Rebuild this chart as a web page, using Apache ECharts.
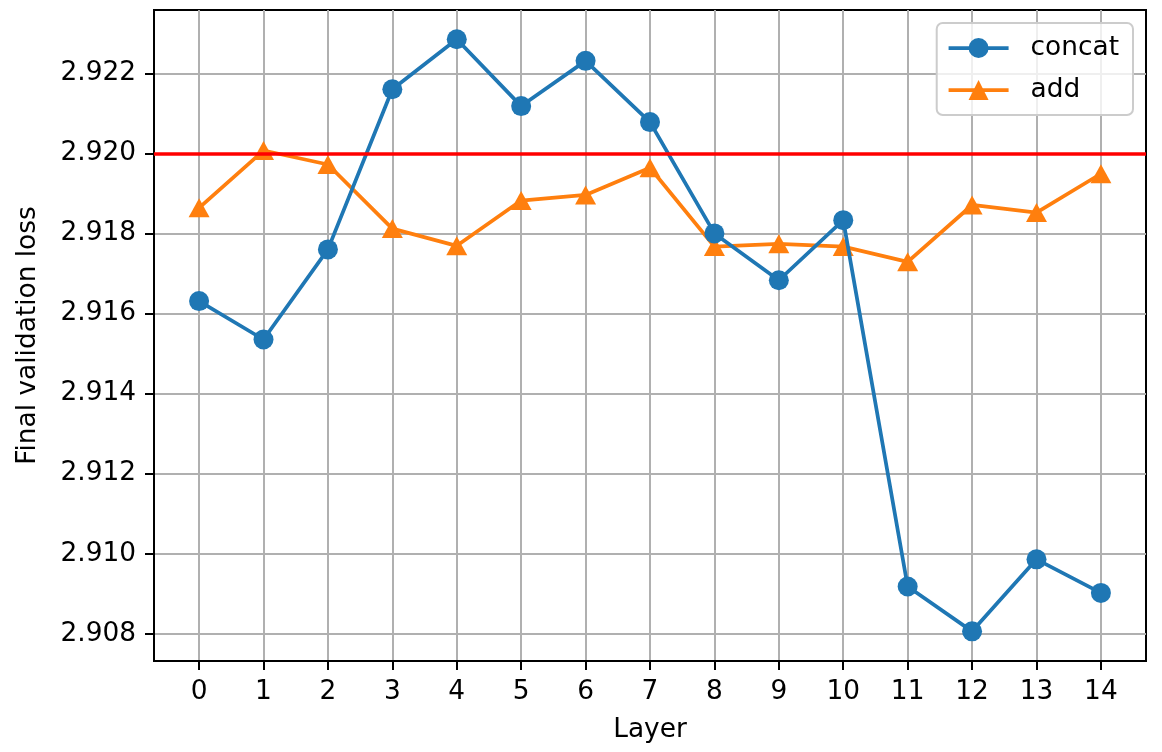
<!DOCTYPE html>
<html><head><meta charset="utf-8">
<script src="https://cdn.jsdelivr.net/npm/echarts@6/dist/echarts.min.js"></script>
<style>html,body{margin:0;padding:0;background:#fff}#c{width:1162px;height:752px}</style>
</head><body><div id="c"></div>
<script>
const layers = [0,1,2,3,4,5,6,7,8,9,10,11,12,13,14];
const concatVals = [2.91631,2.91535,2.91760,2.92160,2.92285,2.92118,2.92231,2.92078,2.91800,2.91683,2.91833,2.90918,2.90806,2.90986,2.90902];
const addVals = [2.91864,2.92007,2.91972,2.91812,2.91769,2.91882,2.91896,2.91964,2.91767,2.91774,2.91767,2.91729,2.91871,2.91852,2.91949];
const yTicks = [2.908,2.910,2.912,2.914,2.916,2.918,2.920,2.922];
const refLine = 2.920;
const seriesNames = ['concat','add'];
const xLabel = 'Layer';
const yLabel = 'Final validation loss';

const FONT = 'DejaVu Sans';
const FS = 26.4;
const chart = echarts.init(document.getElementById('c'), null, {renderer:'canvas'});
const pairs = vals => layers.map((l,i)=>[l, vals[i]]);
chart.setOption({
  animation:false,
  backgroundColor:'#fff',
  textStyle:{fontFamily:FONT},
  grid:{left:154,right:16,top:10,bottom:91,show:true,borderColor:'#000',borderWidth:2,backgroundColor:'#fff'},
  legend:{
    orient:'vertical', right:29, top:23,
    padding:[12,14,12,10], itemGap:16, itemWidth:60, itemHeight:25,
    backgroundColor:'rgba(255,255,255,0.8)', borderColor:'#cccccc', borderWidth:2, borderRadius:6,
    textStyle:{fontFamily:FONT,fontSize:FS,color:'#000',padding:[0,0,0,17]},
    lineStyle:{width:3.75},
    data:seriesNames
  },
  xAxis:{
    type:'value', min:-0.7, max:14.7,
    name:xLabel, nameLocation:'middle', nameGap:56,
    nameTextStyle:{fontFamily:FONT,fontSize:FS,color:'#000'},
    axisLine:{show:true,onZero:false,lineStyle:{color:'#000',width:2}},
    axisTick:{show:true,length:9,lineStyle:{color:'#000',width:2},customValues:layers},
    axisLabel:{fontFamily:FONT,fontSize:FS,color:'#000',margin:18,customValues:layers},
    splitLine:{show:true,lineStyle:{color:'#b0b0b0',width:2}}
  },
  yAxis:{
    type:'value', min:2.90732, max:2.92358,
    name:yLabel, nameLocation:'middle', nameGap:113,
    nameTextStyle:{fontFamily:FONT,fontSize:FS,color:'#000'},
    axisLine:{show:true,onZero:false,lineStyle:{color:'#000',width:2}},
    axisTick:{show:true,length:9,lineStyle:{color:'#000',width:2},customValues:yTicks},
    axisLabel:{fontFamily:FONT,fontSize:FS,color:'#000',margin:18,customValues:yTicks,formatter:v=>v.toFixed(3)},
    splitLine:{show:true,lineStyle:{color:'#b0b0b0',width:2}}
  },
  series:[
    {name:'ref',type:'line',data:[],z:1,silent:true,
      markLine:{silent:true,symbol:'none',label:{show:false},lineStyle:{color:'#ff0000',width:3.5,type:'solid'},data:[{yAxis:refLine}]}},
    {name:seriesNames[0],type:'line',data:pairs(concatVals),z:3,
      symbol:'circle',symbolSize:20,showAllSymbol:true,
      lineStyle:{color:'#1f77b4',width:3.75},itemStyle:{color:'#1f77b4'}},
    {name:seriesNames[1],type:'line',data:pairs(addVals),z:2,
      symbol:'triangle',symbolSize:[21,19],showAllSymbol:true,
      lineStyle:{color:'#ff7f0e',width:3.75},itemStyle:{color:'#ff7f0e'}}
  ]
});
</script></body></html>
